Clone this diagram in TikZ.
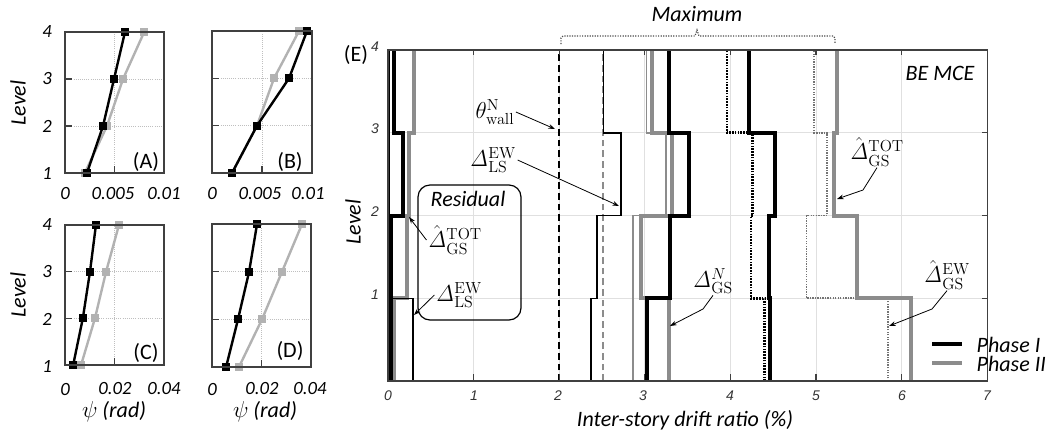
\documentclass[tikz,border=0pt]{standalone}
\usepackage[no-math]{fontspec}
\setmainfont{Carlito}
\newfontfamily\arialfont{Liberation Sans}
\usepackage{amsmath}
\usetikzlibrary{arrows.meta,plotmarks}

% one step curve: values for stories 1 to 4
\newcommand{\storysteps}[5]{%
  \draw[#1] (#2,0) -- (#2,1) -- (#3,1) -- (#3,2) -- (#4,2) -- (#4,3) -- (#5,3) -- (#5,4);}

\tikzset{
  axisframe/.style={draw=black!75, line width=0.9pt},
  lightgrid/.style={draw=black!12, line width=0.5pt},
  dotgrid/.style={draw=black!25, densely dotted, line width=0.6pt},
  ptick/.style={draw=black!75, line width=0.8pt},
  psiOne/.style={black, line width=1.8pt, mark=square*, mark size=2.1pt},
  psiTwo/.style={black!30, line width=1.8pt, mark=square*, mark size=2.1pt,
    mark options={draw=black!30, fill=black!30}},
  ph1thick/.style={black, line width=3pt},
  ph2thick/.style={black!45, line width=3pt},
  ph1thin/.style={black, line width=1.1pt},
  ph2thin/.style={black!45, line width=1.2pt},
  ph1dot/.style={black, line width=2pt, dash pattern=on 1.2pt off 0.9pt},
  ph2dot/.style={black!55, line width=1.3pt, dash pattern=on 1pt off 0.9pt},
  wallline/.style={black, line width=1.6pt, dash pattern=on 5pt off 3pt},
  ph2dash/.style={black!45, line width=1pt, dash pattern=on 5pt off 3pt},
  annot/.style={black, line width=0.6pt, -{Stealth[length=5pt,width=3.5pt]}},
  bracestyle/.style={draw=black!70, densely dotted, line width=0.9pt},
  resbox/.style={draw, line width=0.9pt, rounded corners=9pt, minimum width=77.25pt,
    minimum height=101.25pt, inner sep=0pt},
  axlab/.style={font=\fontsize{16.5}{19}\selectfont\itshape},
  numlab/.style={font=\fontsize{14}{16}\selectfont\itshape},
  elab/.style={font=\arialfont\fontsize{10.5}{12}\selectfont\itshape, text=black!80},
  mathlab/.style={font=\fontsize{17}{20}\selectfont, inner sep=1pt},
  panel/.style={font=\fontsize{16.5}{19}\selectfont}
}

\begin{document}
\begin{tikzpicture}[x=0.75pt, y=-0.75pt]
  \useasboundingbox (0,0) rectangle (1048,437);

  % panel A
  \begin{scope}[shift={(65,173)}, x=7.425pt, y=35.25pt]
    \draw[dotgrid] (5,0) -- (5,3) (0,1) -- (10,1) (0,2) -- (10,2);
    \draw[psiTwo] plot coordinates {(2.0,0) (4.24,1) (5.86,2) (8.0,3)};
    \draw[psiOne] plot coordinates {(2.22,0) (3.84,1) (4.95,2) (6.06,3)};
    \draw[axisframe] (0,0) rectangle (10,3);
    \draw[ptick] (5,0) -- ++(0,5pt) (0,1) -- ++(5pt,0) (0,2) -- ++(5pt,0);
  \end{scope}
  % panel B
  \begin{scope}[shift={(212,173)}, x=7.5pt, y=35.5pt]
    \draw[dotgrid] (5,0) -- (5,3) (0,1) -- (10,1) (0,2) -- (10,2);
    \draw[psiTwo] plot coordinates {(2.0,0) (4.5,1) (6.2,2) (8.7,3)};
    \draw[psiOne] plot coordinates {(2.0,0) (4.5,1) (7.7,2) (9.5,3)};
    \draw[axisframe] (0,0) rectangle (10,3);
    \draw[ptick] (5,0) -- ++(0,5pt) (0,1) -- ++(5pt,0) (0,2) -- ++(5pt,0);
  \end{scope}
  % panel C
  \begin{scope}[shift={(65,365)}, x=1.856pt, y=35pt]
    \draw[dotgrid] (20,0) -- (20,3) (0,1) -- (40,1) (0,2) -- (40,2);
    \draw[psiTwo] plot coordinates {(6.5,0) (12.1,1) (16.6,2) (21.8,3)};
    \draw[psiOne] plot coordinates {(3.3,0) (7.2,1) (10.1,2) (12.5,3)};
    \draw[axisframe] (0,0) rectangle (40,3);
    \draw[ptick] (20,0) -- ++(0,5pt) (0,1) -- ++(5pt,0) (0,2) -- ++(5pt,0);
  \end{scope}
  % panel D
  \begin{scope}[shift={(212,367)}, x=1.856pt, y=35.75pt]
    \draw[dotgrid] (20,0) -- (20,3) (0,1) -- (40,1) (0,2) -- (40,2);
    \draw[psiTwo] plot coordinates {(10.9,0) (20.2,1) (28.3,2) (36.4,3)};
    \draw[psiOne] plot coordinates {(5.7,0) (10.5,1) (15.0,2) (18.2,3)};
    \draw[axisframe] (0,0) rectangle (40,3);
    \draw[ptick] (20,0) -- ++(0,5pt) (0,1) -- ++(5pt,0) (0,2) -- ++(5pt,0);
  \end{scope}

  % panel E: drift ratio per story
  \begin{scope}[shift={(388,381)}, x=64.2pt, y=62.06pt]
    \foreach \i in {1,...,6} \draw[lightgrid] (\i,0) -- (\i,4);
    \foreach \j in {1,2,3} \draw[lightgrid] (0,\j) -- (7,\j);
    % residual
    \storysteps{ph2thick}{0.07}{0.22}{0.245}{0.30}
    \storysteps{ph1thin}{0.29}{0.05}{0.01}{0.01}
    \storysteps{ph1thick}{0.03}{0.04}{0.18}{0.07}
    % maximum
    \draw[wallline] (2,0) -- (2,4);
    \draw[ph2dash] (2.51,0) -- (2.51,4);
    \storysteps{ph1thin}{2.37}{2.44}{2.72}{2.52}
    \storysteps{ph2thin}{2.86}{2.86}{3.25}{3.02}
    \storysteps{ph2thick}{3.28}{2.95}{3.32}{3.08}
    \storysteps{ph1thick}{3.03}{3.30}{3.52}{3.28}
    \storysteps{ph1dot}{4.40}{4.24}{4.26}{3.96}
    \storysteps{ph1thick}{4.46}{4.45}{4.52}{4.22}
    \storysteps{ph2dot}{5.84}{4.89}{5.13}{4.98}
    \storysteps{ph2thick}{6.11}{5.48}{5.21}{5.24}
    \draw[axisframe] (0,0) rectangle (7,4);
    \foreach \i in {1,...,6} \draw[ptick] (\i,0) -- ++(0,5pt) (\i,4) -- ++(0,-4pt);
    \foreach \j in {1,2,3} \draw[ptick] (7,\j) -- ++(-4pt,0);
  \end{scope}

  % labels of A to D
  \node[numlab] (aY4) at (47,32) {4};
  \node[numlab] (aY3) at (47,79) {3};
  \node[numlab] (aY2) at (47,126) {2};
  \node[numlab] (aY1) at (47,173) {1};
  \node[axlab, rotate=90] (aLevel) at (18,103) {Level};
  \node[numlab] (aX0) at (65,194) {0};
  \node[numlab] (aX1) at (113,194) {0.005};
  \node[numlab] (aX2) at (164,194) {0.01};
  \node[panel] (aTag) at (146,162) {(A)};
  \node[numlab] (bX0) at (212,194) {0};
  \node[numlab] (bX1) at (260,194) {0.005};
  \node[numlab] (bX2) at (308,194) {0.01};
  \node[panel] (bTag) at (290,162) {(B)};
  \node[numlab] (cY4) at (47,225) {4};
  \node[numlab] (cY3) at (47,272) {3};
  \node[numlab] (cY2) at (47,319) {2};
  \node[numlab] (cY1) at (47,366) {1};
  \node[axlab, rotate=90] (cLevel) at (18,295) {Level};
  \node[numlab] (cX0) at (65,389) {0};
  \node[numlab] (cX1) at (115,389) {0.02};
  \node[numlab] (cX2) at (164,389) {0.04};
  \node[axlab] (cPsi) at (114,412) {$\psi$ (rad)};
  \node[panel] (cTag) at (146,353) {(C)};
  \node[numlab] (dX0) at (212,389) {0};
  \node[numlab] (dX1) at (262,389) {0.02};
  \node[numlab] (dX2) at (310,389) {0.04};
  \node[axlab] (dPsi) at (265,412) {$\psi$ (rad)};
  \node[panel] (dTag) at (290,351) {(D)};

  % labels of E
  \node[panel] (eTag) at (356,55) {(E)};
  \foreach \v/\py in {4/47,3/129,2/212,1/295}
    \node[elab] (eY\v) at (375,\py) {\v};
  \foreach \v/\px in {0/388,1/474,2/558,3/643,4/730,5/816,6/902,7/987}
    \node[elab] (eX\v) at (\px,396) {\v};
  \node[axlab, rotate=90] (eLevel) at (353,222) {Level};
  \node[axlab] (eXTitle) at (685,420) {Inter-story drift ratio (\%)};
  \node[axlab] (mceLab) at (940,73) {BE MCE};

  % maximum brace
  \node[axlab] (maxLab) at (697,14) {Maximum};
  \draw[bracestyle] (561,44) -- (561,38) -- (563,36) -- (695,36) -- (697,30)
    -- (699,36) -- (833,36) -- (835,38) -- (835,44);

  % residual box
  \node[resbox] (resBox) at (469.5,252.5) {};
  \node[axlab] (resTitle) at (468,199) {Residual};

  % annotations
  \node[mathlab] (wallLab) at (495,112) {$\theta^{\mathrm{N}}_{\mathrm{wall}}$};
  \coordinate (wallTip) at (555,129);
  \draw[annot] (wallLab.east) -- (wallTip);
  \node[mathlab] (lsMaxLab) at (493,160) {$\mathit{\Delta}^{\mathrm{EW}}_{\mathrm{LS}}$};
  \coordinate (lsMaxTip) at (619,206);
  \draw[annot] (lsMaxLab.east) -- (lsMaxTip);
  \node[mathlab] (gsTotResLab) at (455,240) {$\hat{\mathit{\Delta}}^{\mathrm{TOT}}_{\mathrm{GS}}$};
  \coordinate (gsTotResTip) at (409,217);
  \draw[annot] (gsTotResLab.west) -- (gsTotResTip);
  \node[mathlab] (lsResLab) at (459,295) {$\mathit{\Delta}^{\mathrm{EW}}_{\mathrm{LS}}$};
  \coordinate (lsResTip) at (414,315);
  \draw[annot] (lsResLab.west) -- (lsResTip);
  \node[mathlab] (gsNLab) at (713,281) {$\mathit{\Delta}^{N}_{\mathrm{GS}}$};
  \coordinate (gsNBend) at (703,309);
  \coordinate (gsNTip) at (670,326);
  \draw[annot] (gsNLab.south) -- (gsNBend) -- (gsNTip);
  \node[mathlab] (gsTotMaxLab) at (877,152) {$\hat{\mathit{\Delta}}^{\mathrm{TOT}}_{\mathrm{GS}}$};
  \coordinate (gsTotMaxBend) at (863,190);
  \coordinate (gsTotMaxTip) at (837,199);
  \draw[annot] (gsTotMaxLab.south) -- (gsTotMaxBend) -- (gsTotMaxTip);
  \node[mathlab] (gsEwLab) at (947,275) {$\hat{\mathit{\Delta}}^{\mathrm{EW}}_{\mathrm{GS}}$};
  \coordinate (gsEwBend) at (932,309);
  \coordinate (gsEwTip) at (889,326);
  \draw[annot] (gsEwLab.south) -- (gsEwBend) -- (gsEwTip);

  % legend
  \coordinate (legOne) at (932,344);
  \coordinate (legTwo) at (932,363);
  \draw[ph1thick] (legOne) -- ++(30,0);
  \draw[ph2thick] (legTwo) -- ++(30,0);
  \node[axlab, anchor=west] (legOneTxt) at (972,345) {Phase I};
  \node[axlab, anchor=west] (legTwoTxt) at (972,364) {Phase II};
\end{tikzpicture}
\end{document}
